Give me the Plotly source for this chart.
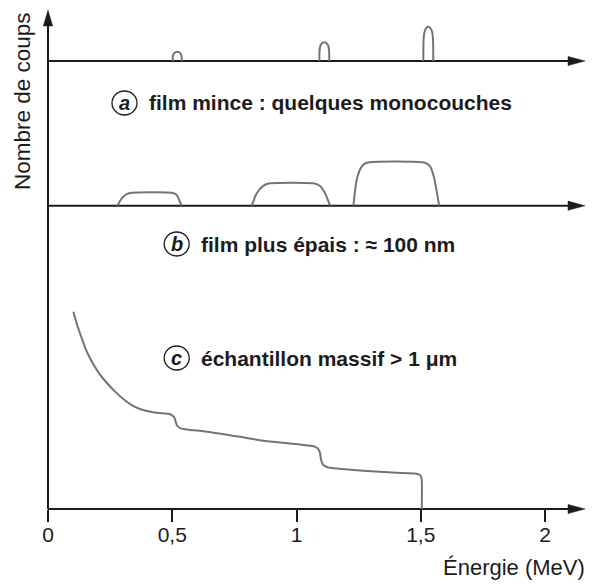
import plotly.graph_objects as go

# ---- energy axis ----
tick_vals = [0, 0.5, 1, 1.5, 2]
tick_text = ["0", "0,5", "1", "1,5", "2"]

# ---- (a) thin film: narrow peaks (counts, arbitrary units) ----
peak1_e = [0.502, 0.503, 0.508, 0.520, 0.532, 0.537, 0.539]
peak1_n = [0, 15, 23, 27, 23, 15, 0]
peak2_e = [1.092, 1.0926, 1.0958, 1.1026, 1.1119, 1.1211, 1.128, 1.1312, 1.132]
peak2_n = [0, 29, 44, 52, 54.5, 52, 44, 29, 0]
peak3_e = [1.5103, 1.5111, 1.5143, 1.5211, 1.5304, 1.5396, 1.5465, 1.5497, 1.5505]
peak3_n = [0, 58, 82, 95, 100, 95, 82, 58, 0]

# ---- (b) thicker film: plateaus ----
plat1_e = [0.279, 0.297, 0.317, 0.337, 0.498, 0.518, 0.528, 0.538]
plat1_n = [0, 17, 27, 30, 30, 25, 13, 0]
plat2_e = [0.820, 0.840, 0.866, 0.893, 1.068, 1.095, 1.115, 1.135]
plat2_n = [0, 29, 46, 52, 52, 46, 29, 0]
plat3_e = [1.229, 1.242, 1.262, 1.283, 1.517, 1.537, 1.553, 1.574]
plat3_n = [0, 60, 91, 100, 100, 92, 67, 0]

# ---- (c) bulk sample: continuous spectrum ----
bulk_e = [0.102, 0.118, 0.136, 0.152, 0.169, 0.202, 0.236, 0.270, 0.303, 0.337,
          0.370, 0.424, 0.491, 0.498, 0.508, 0.514, 0.520, 0.534, 0.565, 0.639,
          0.773, 0.866, 1.001, 1.074, 1.088, 1.095, 1.099, 1.108, 1.122, 1.135,
          1.269, 1.403, 1.490, 1.500, 1.504, 1.504]
bulk_n = [100, 93.0, 86.5, 81.0, 76.4, 69.4, 64.0, 59.5, 55.8, 52.7,
          50.7, 49.0, 48.0, 47.6, 46.5, 44.2, 42.2, 40.9, 40.2, 39.2,
          36.6, 34.6, 32.9, 31.6, 30.3, 28.2, 24.8, 22.3, 21.3, 20.9,
          19.4, 18.4, 17.7, 16.7, 14.7, 0]

# ---- figure geometry ----
W, H = 592, 585
ML, MR, MT, MB = 48, 5, 10, 76
PW, PH = W - ML - MR, H - MT - MB
E_MAX = PW / 248.5


def fx(px):
    return (px - ML) / PW


def fy(py):
    return (H - MB - py) / PH


CURVE = "#747474"
INK = "#1c1c1c"
FONT = "Liberation Sans, Arial, sans-serif"

fig = go.Figure()


def add_curve(x, y, axis):
    fig.add_trace(go.Scatter(
        x=x, y=y, yaxis=axis, mode="lines",
        line=dict(color=CURVE, width=2, shape="spline", smoothing=0.6),
        hoverinfo="skip", showlegend=False,
    ))


for e, n in [(peak1_e, peak1_n), (peak2_e, peak2_n), (peak3_e, peak3_n)]:
    add_curve(e, n, "y3")
for e, n in [(plat1_e, plat1_n), (plat2_e, plat2_n), (plat3_e, plat3_n)]:
    add_curve(e, n, "y2")
add_curve(bulk_e, bulk_n, "y")

shapes = []
# horizontal baselines, each ending in an arrowhead
for base_py in [509, 205.7, 61]:
    shapes.append(dict(type="line", xref="paper", yref="paper",
                       x0=0, x1=fx(572), y0=fy(base_py), y1=fy(base_py),
                       line=dict(color=INK, width=2), layer="below"))
    shapes.append(dict(type="path", xref="paper", yref="paper",
                       xsizemode="pixel", ysizemode="pixel",
                       xanchor=fx(585), yanchor=fy(base_py),
                       path="M 0 0 L -17 4.6 L -17 -4.6 Z",
                       fillcolor=INK, line=dict(color=INK, width=0.5)))
# vertical counts axis with arrowhead
shapes.append(dict(type="line", xref="paper", yref="paper", x0=0, x1=0,
                   y0=0, y1=fy(22), line=dict(color=INK, width=2), layer="below"))
shapes.append(dict(type="path", xref="paper", yref="paper",
                   xsizemode="pixel", ysizemode="pixel",
                   xanchor=0, yanchor=1,
                   path="M 0 0 L -4.6 -16 L 4.6 -16 Z",
                   fillcolor=INK, line=dict(color=INK, width=0.5)))

# circled letters for the spectrum labels
labels = [
    ("a", 124.5, 103, "film mince : quelques monocouches", 146.7),
    ("b", 176.7, 244, "film plus épais : ≈ 100 nm", 199),
    ("c", 176.7, 358, "échantillon massif > 1 μm", 199),
]
annotations = []
for letter, cx, cy, text, tx in labels:
    shapes.append(dict(type="circle", xref="paper", yref="paper",
                       xsizemode="pixel", ysizemode="pixel",
                       xanchor=fx(cx), yanchor=fy(cy),
                       x0=-12.5, x1=12.5, y0=-12, y1=12,
                       line=dict(color=INK, width=1.3)))
    annotations.append(dict(xref="paper", yref="paper", x=fx(cx), y=fy(cy),
                            text=f"<b><i>{letter}</i></b>", showarrow=False,
                            xanchor="center", yanchor="middle",
                            font=dict(family=FONT, size=20, color=INK)))
    annotations.append(dict(xref="paper", yref="paper", x=fx(tx), y=fy(cy),
                            text=f"<b>{text}</b>", showarrow=False,
                            xanchor="left", yanchor="middle",
                            font=dict(family=FONT, size=21, color=INK)))

annotations.append(dict(xref="paper", yref="paper", x=fx(587), y=fy(567),
                        text="Énergie (MeV)", showarrow=False,
                        xanchor="right", yanchor="middle",
                        font=dict(family=FONT, size=22, color=INK)))
annotations.append(dict(xref="paper", yref="paper", x=fx(23), y=fy(101),
                        text="Nombre de coups", showarrow=False, textangle=-90,
                        xanchor="center", yanchor="middle",
                        font=dict(family=FONT, size=22.5, color=INK)))

hidden = dict(visible=False, showgrid=False, zeroline=False, fixedrange=True)
fig.update_layout(
    width=W, height=H,
    margin=dict(l=ML, r=MR, t=MT, b=MB),
    paper_bgcolor="white", plot_bgcolor="white",
    xaxis=dict(range=[0, E_MAX], tickvals=tick_vals, ticktext=tick_text,
               ticks="outside", ticklen=12, tickwidth=2, tickcolor=INK,
               ticklabelstandoff=-5,
               showline=False, showgrid=False, zeroline=False,
               tickfont=dict(family=FONT, size=21, color=INK), anchor="y"),
    yaxis=dict(domain=[0, fy(215)], range=[0, 294 / 1.973], **hidden),
    yaxis2=dict(domain=[fy(205.7), fy(149.8)], range=[0, 130], anchor="x", **hidden),
    yaxis3=dict(domain=[fy(61), 1.0], range=[0, 51 / 0.343], anchor="x", **hidden),
    shapes=shapes,
    annotations=annotations,
    showlegend=False,
)

fig.write_html("out.html")
